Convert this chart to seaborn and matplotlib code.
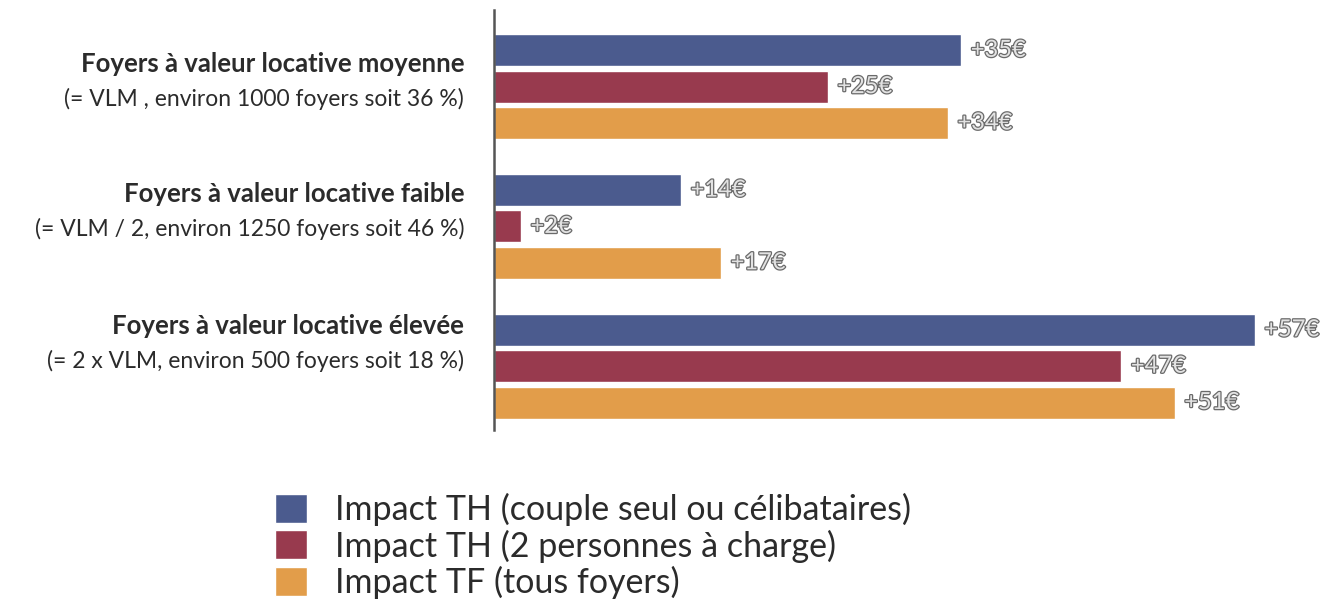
import seaborn as sns
import matplotlib.pyplot as plt
import matplotlib.patheffects as pe
import pandas as pd

# ----------------------------------------------------------
# DATA
# ----------------------------------------------------------
categories = [
    "Foyers à valeur locative moyenne",
    "Foyers à valeur locative faible",
    "Foyers à valeur locative élevée",
]
subtitles = [
    "(= VLM , environ 1000 foyers soit 36 %)",
    "(= VLM / 2, environ 1250 foyers soit 46 %)",
    "(= 2 x VLM, environ 500 foyers soit 18 %)",
]
series = [
    "Impact TH (couple seul ou célibataires)",
    "Impact TH (2 personnes à charge)",
    "Impact TF (tous foyers)",
]
th_single = [35, 14, 57]
th_children = [25, 2, 47]
tf_all = [34, 17, 51]
colors = ["#4b5b8e", "#983a4e", "#e29d4a"]

rows = []
for name, vals in zip(series, [th_single, th_children, tf_all]):
    for cat, v in zip(categories, vals):
        rows.append({"Catégorie": cat, "Série": name, "Impact": v})
df = pd.DataFrame(rows)

# ----------------------------------------------------------
# PLOT
# ----------------------------------------------------------
sns.set_style("white")
plt.rcParams["font.family"] = ["Lato", "DejaVu Sans"]

fig = plt.figure(figsize=(13.32, 6.10), dpi=100)
ax = fig.add_axes([0.371, 0.295, 0.629, 0.689])

sns.barplot(
    data=df, x="Impact", y="Catégorie", hue="Série",
    order=categories, hue_order=series, palette=colors,
    orient="h", width=0.78, gap=0.12, saturation=1,
    legend=True, ax=ax,
)

ax.set_xlim(0, 62.8)
ax.set_ylim(2.457, -0.55)
ax.set_xticks([15, 30, 45, 60])
ax.set_xticklabels([])
ax.tick_params(axis="x", length=3, width=2, color="#9a9a9a", direction="out", pad=0)
ax.set_yticks([])
ax.set_xlabel("")
ax.set_ylabel("")
for side in ["top", "right", "bottom"]:
    ax.spines[side].set_visible(False)
ax.spines["left"].set_color("#555555")
ax.spines["left"].set_linewidth(1.8)

# value labels (light text with dark outline)
for cont in ax.containers:
    labels = [f"+{int(v)}€" for v in cont.datavalues]
    txts = ax.bar_label(cont, labels=labels, padding=7, fontsize=17,
                        color="#e2e2e2")
    for t in txts:
        t.set_path_effects([pe.withStroke(linewidth=1.8, foreground="#6a6a6a")])

# category labels on the left (per-group vertical nudge to follow the layout)
nudge = [0.07, 0.0, -0.06]
for i, (cat, sub) in enumerate(zip(categories, subtitles)):
    ax.text(-0.036, i - 0.23 + nudge[i], cat, transform=ax.get_yaxis_transform(),
            ha="right", va="center", fontsize=18.5, fontweight="bold", color="#2b2b2b")
    ax.text(-0.036, i + 0.02 + nudge[i], sub, transform=ax.get_yaxis_transform(),
            ha="right", va="center", fontsize=16.5, color="#2b2b2b")

handles, labels = ax.get_legend_handles_labels()
ax.get_legend().remove()
fig.legend(handles, labels, loc="upper left", bbox_to_anchor=(0.2065, 0.192),
           frameon=False, fontsize=24.5, handlelength=0.94, handleheight=0.94,
           handletextpad=0.82, labelspacing=0.1, borderaxespad=0, borderpad=0,
           labelcolor="#2b2b2b")

fig.savefig("out.png", dpi=100)
